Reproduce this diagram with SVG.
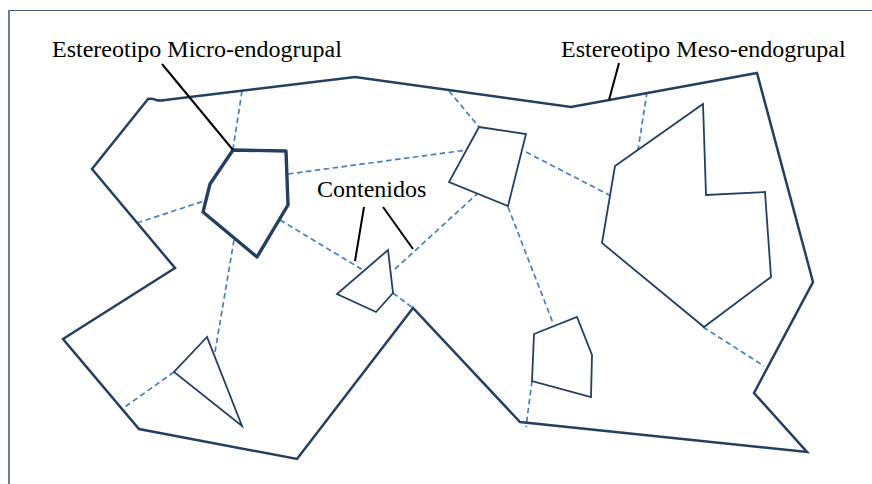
<svg xmlns="http://www.w3.org/2000/svg" width="872" height="484" viewBox="0 0 872 484">
<style>
.frame-top{stroke:#3f5f8a;stroke-width:1.2;fill:none}
.frame-left{stroke:#6d7d96;stroke-width:2;fill:none}
.outline{fill:none;stroke:#243f60;stroke-width:2.5;stroke-linejoin:miter}
.thin{fill:none;stroke:#243f60;stroke-width:1.8;stroke-linejoin:miter}
.thick{fill:none;stroke:#243f60;stroke-width:3.4;stroke-linejoin:round}
.dash{fill:none;stroke:#4a7ebb;stroke-width:1.7;stroke-dasharray:5.5 3.5}
.leader{fill:none;stroke:#000;stroke-width:2}
.lbl{font-family:"Liberation Serif","Times New Roman",serif;font-size:24px;fill:#000}
</style>
<rect width="872" height="484" fill="#fff"/>
<g id="frame">
<line class="frame-top" x1="9" y1="10.5" x2="872" y2="10.5"/>
<line class="frame-left" x1="9" y1="10" x2="9" y2="484"/>
</g>
<g id="connectors">
<line class="dash" x1="242" y1="91" x2="233" y2="149"/>
<line class="dash" x1="137" y1="223" x2="204" y2="201"/>
<line class="dash" x1="234" y1="240" x2="215" y2="352"/>
<line class="dash" x1="288" y1="174" x2="467" y2="150"/>
<line class="dash" x1="280" y1="220" x2="363" y2="270"/>
<line class="dash" x1="395" y1="269" x2="477" y2="194"/>
<line class="dash" x1="449" y1="91" x2="479" y2="127"/>
<line class="dash" x1="526" y1="152" x2="613" y2="197"/>
<line class="dash" x1="647" y1="92" x2="638" y2="150"/>
<line class="dash" x1="508" y1="207" x2="553" y2="323"/>
<line class="dash" x1="393" y1="293" x2="413" y2="308"/>
<line class="dash" x1="532" y1="381" x2="526" y2="427"/>
<line class="dash" x1="703" y1="327" x2="764" y2="366"/>
<line class="dash" x1="174" y1="372" x2="122" y2="409"/>
</g>
<g id="meso-endogrupal">
<path class="outline" d="M148,99 Q152,98 156,100 Q160,101 165,100 L355,77 L571,107 L757,73 L813,282 L754,393 L807,452 L520,422 L413,308 L297,459 L139,429 L63,339 L175,268 L92,169 Z"/>
</g>
<g id="micro-endogrupal">
<path class="thick" d="M233,150 L286,151 L288,205 L257,257 L203,212 L210,184 Z"/>
</g>
<g id="quad">
<path class="thin" d="M479,127 L526,134 L508,206 L449,182 Z"/>
</g>
<g id="contenido-triangle">
<path class="thin" d="M388,250 L393,293 L376,312 L337,294 Z"/>
</g>
<g id="left-triangle">
<path class="thin" d="M207,337 L174,372 L242,426 Z"/>
</g>
<g id="pentagon">
<path class="thin" d="M534,334 L577,317 L592,355 L591,397 L532,381 Z"/>
</g>
<g id="big-heptagon">
<path class="thin" d="M703,104 L706,195 L765,192 L771,277 L704,327 L602,243 L615,166 Z"/>
</g>
<g id="labels">
<text class="lbl" x="52" y="57">Estereotipo Micro-endogrupal</text>
<text class="lbl" x="561" y="57">Estereotipo Meso-endogrupal</text>
<text class="lbl" x="317" y="197">Contenidos</text>
<line class="leader" x1="162" y1="64" x2="233" y2="150"/>
<line class="leader" x1="619" y1="63" x2="609" y2="100"/>
<line class="leader" x1="364" y1="207" x2="355" y2="261"/>
<line class="leader" x1="383" y1="207" x2="413" y2="249"/>
</g>
</svg>
